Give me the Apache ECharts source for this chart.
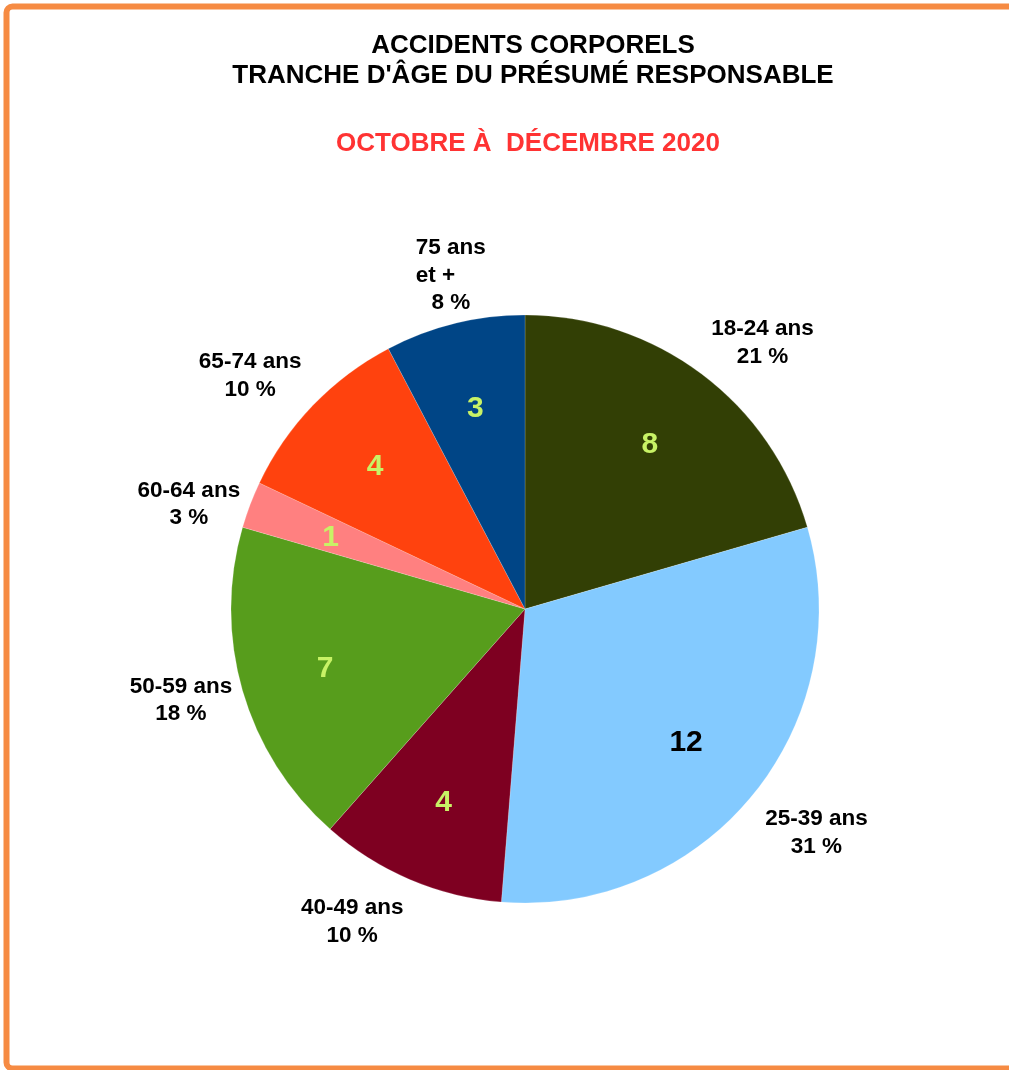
<!DOCTYPE html>
<html>
<head>
<meta charset="utf-8">
<script src="https://cdn.jsdelivr.net/npm/echarts@6/dist/echarts.min.js"></script>
<style>
  html, body { margin: 0; padding: 0; background: #ffffff; }
  #chart { width: 1009px; height: 1070px; }
</style>
</head>
<body>
<div id="chart"></div>
<script>
// Accidents corporels par tranche d'âge du présumé responsable (oct.-déc. 2020)
const categories = ['18-24 ans', '25-39 ans', '40-49 ans', '50-59 ans', '60-64 ans', '65-74 ans', '75 ans et +'];
const counts = [8, 12, 4, 7, 1, 4, 3];

const titleLines = ['ACCIDENTS CORPORELS', "TRANCHE D'ÂGE DU PRÉSUMÉ RESPONSABLE"];
const periodText = 'OCTOBRE À  DÉCEMBRE 2020';

// Styles
const sliceColors = ['#323f05', '#83caff', '#7e0021', '#579d1c', '#ff8080', '#ff420e', '#004586'];
const countColors = ['#c8f266', '#000000', '#c8f266', '#c8f266', '#c8f266', '#c8f266', '#c8f266'];
const FONT = "'Liberation Sans', Arial, Helvetica, sans-serif";

// Pie geometry
const CX = 525, CY = 609, R = 294;
const LABEL_GAP = 16;
const COUNT_RADIUS = 208;

const total = counts.reduce((a, b) => a + b, 0);
const before = [];
counts.reduce((acc, v) => { before.push(acc); return acc + v; }, 0);

// mid angle of a slice, clockwise from 12 o'clock
function midAngle(i) {
  return (before[i] + counts[i] / 2) / total * 2 * Math.PI;
}

// Category labels sit just outside the rim, anchored by the side/corner facing the pie
function outsideLayout(p) {
  const a = midAngle(p.dataIndex);
  const s = Math.sin(a), c = Math.cos(a);
  const d = R + LABEL_GAP;
  const lim = Math.sin(Math.PI / 8);
  const hMid = Math.abs(c) < lim;
  const above = c > 0;
  return {
    x: CX + d * s + (hMid ? (s > 0 ? -5 : 5) : 0),
    y: CY - d * c + (hMid ? 5 : (above ? 9 : 0)),
    align: Math.abs(s) < lim ? 'center' : (s > 0 ? 'left' : 'right'),
    verticalAlign: hMid ? 'middle' : (above ? 'bottom' : 'top')
  };
}

// Counts are centred on the slice's mid angle, well inside the rim
function countLayout(p) {
  const a = midAngle(p.dataIndex);
  return {
    x: CX + COUNT_RADIUS * Math.sin(a),
    y: CY - COUNT_RADIUS * Math.cos(a) + 2,
    align: 'center',
    verticalAlign: 'middle'
  };
}

function categoryLabel(p) {
  const pct = Math.round(p.value / total * 100) + ' %';
  const parts = p.name.split(' et ');
  if (parts.length > 1) {
    return '{c|' + parts[0] + '}\n{l|et ' + parts[1] + '}\n{c|' + pct + '}';
  }
  return '{c|' + p.name + '}\n{c|' + pct + '}';
}

const catText = { fontFamily: FONT, fontSize: 22.5, fontWeight: 'bold', color: '#000', lineHeight: 27.5 };

const chart = echarts.init(document.getElementById('chart'), null, { renderer: 'canvas' });

chart.setOption({
  backgroundColor: '#ffffff',
  animation: false,
  graphic: [{
    type: 'rect',
    silent: true,
    shape: { x: 6.5, y: 6.5, width: 1100, height: 1062, r: 6 },
    style: { fill: 'none', stroke: '#f68b43', lineWidth: 6 }
  }],
  title: [
    {
      text: titleLines.join('\n'),
      left: 533, top: 31, textAlign: 'center', padding: 0,
      textStyle: { fontFamily: FONT, fontSize: 26, fontWeight: 'bold', color: '#000', lineHeight: 30 }
    },
    {
      text: periodText,
      left: 528, top: 129, textAlign: 'center', padding: 0,
      textStyle: { fontFamily: FONT, fontSize: 26, fontWeight: 'bold', color: '#ff3333', lineHeight: 30 }
    }
  ],
  series: [
    {
      type: 'pie',
      name: 'Tranche d\'âge',
      center: [CX, CY],
      radius: R,
      startAngle: 90,
      clockwise: true,
      avoidLabelOverlap: false,
      silent: true,
      data: categories.map((n, i) => ({ name: n, value: counts[i], itemStyle: { color: sliceColors[i] } })),
      itemStyle: { borderColor: 'rgba(255,255,255,0.35)', borderWidth: 0.5 },
      label: {
        show: true,
        position: 'outside',
        formatter: categoryLabel,
        rich: {
          c: Object.assign({ align: 'center' }, catText),
          l: Object.assign({ align: 'left' }, catText)
        }
      },
      labelLine: { show: false },
      labelLayout: outsideLayout,
      emphasis: { disabled: true }
    },
    {
      type: 'pie',
      name: 'Effectif',
      center: [CX, CY],
      radius: [124, R],
      startAngle: 90,
      clockwise: true,
      avoidLabelOverlap: false,
      silent: true,
      data: categories.map((n, i) => ({
        name: n, value: counts[i],
        itemStyle: { color: 'rgba(0,0,0,0)' },
        label: { color: countColors[i] }
      })),
      label: {
        show: true,
        position: 'inside',
        formatter: '{c}',
        fontFamily: FONT,
        fontSize: 30,
        fontWeight: 'bold'
      },
      labelLine: { show: false },
      labelLayout: countLayout,
      emphasis: { disabled: true }
    }
  ]
});
</script>
</body>
</html>
